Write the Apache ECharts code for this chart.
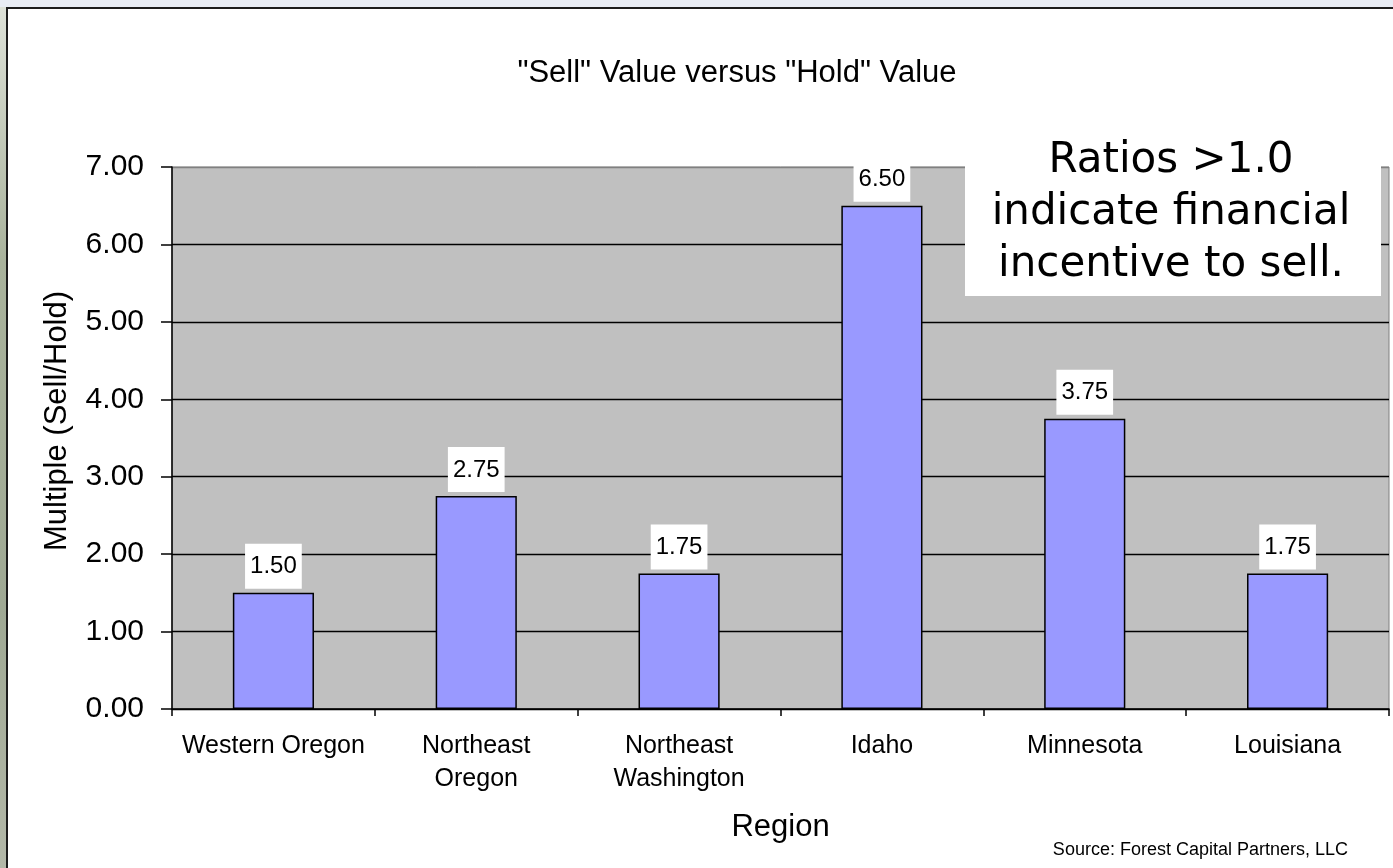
<!DOCTYPE html>
<html>
<head>
    <meta charset="utf-8">
    <title>Sell Value versus Hold Value</title>
    <style>
        html, body {
            margin: 0;
            padding: 0;
            width: 1393px;
            height: 868px;
            overflow: hidden;
            background: linear-gradient(to bottom, #dfe3da 0%, #a9b39c 30%, #9fa994 70%, #b3b8a8 100%);
        }
        .topstrip {
            position: absolute;
            left: 0; top: 0;
            width: 1393px; height: 7px;
            background: #e8ecf4;
        }
        .frame {
            position: absolute;
            left: 6px; top: 7px;
            right: 0; bottom: 0;
            background: #fff;
            border-left: 2px solid #1c1c1c;
            border-top: 2px solid #1c1c1c;
        }
        #chart {
            position: absolute;
            left: 0; top: 0;
            width: 1393px;
            height: 868px;
        }
    </style>
</head>
<body>
<div class="topstrip"></div>
<div class="frame"></div>
<div id="chart"></div>
<script src="https://cdn.jsdelivr.net/npm/echarts@6/dist/echarts.min.js"></script>
<script>
    // data
    var regions = ['Western Oregon', 'Northeast\nOregon', 'Northeast\nWashington', 'Idaho', 'Minnesota', 'Louisiana'];
    var multiples = [1.50, 2.75, 1.75, 6.50, 3.75, 1.75];
    var yTicks = { min: 0, max: 7, step: 1 };

    var titleText = '"Sell" Value versus "Hold" Value';
    var noteLines = ['Ratios >1.0', 'indicate financial', 'incentive to sell.'];
    var sourceText = 'Source: Forest Capital Partners, LLC';

    var font = '"Liberation Sans", Arial, sans-serif';

    // gridlines black, but the top one is the gray plot border
    var gridColors = ['#000', '#000', '#000', '#000', '#000', '#000', '#000', '#808080'];

    var option = {
        backgroundColor: 'transparent',
        animation: false,
        textStyle: { fontFamily: font, color: '#000' },
        grid: {
            left: 172, top: 167, right: 4, bottom: 159,
            show: true,
            backgroundColor: '#c0c0c0',
            borderColor: '#808080',
            borderWidth: 1
        },
        xAxis: {
            type: 'category',
            data: regions,
            name: 'Region',
            nameLocation: 'middle',
            nameGap: 103,
            nameTextStyle: { fontSize: 31, fontFamily: font, color: '#000' },
            axisLine: { show: true, lineStyle: { color: '#000', width: 1.5 } },
            axisTick: { show: true, length: 7, alignWithLabel: false, lineStyle: { color: '#000', width: 1.5 } },
            axisLabel: {
                fontSize: 25, lineHeight: 33, margin: 21, color: '#000', fontFamily: font,
                interval: 0
            },
            splitLine: { show: false }
        },
        yAxis: {
            type: 'value',
            min: yTicks.min,
            max: yTicks.max,
            interval: yTicks.step,
            name: 'Multiple (Sell/Hold)',
            nameLocation: 'middle',
            nameGap: 99,
            nameTextStyle: { fontSize: 31, fontFamily: font, color: '#000', padding: [0, 0, 0, 34] },
            axisLine: { show: true, lineStyle: { color: '#000', width: 1.5 } },
            axisTick: { show: true, length: 11, lineStyle: { color: '#000', width: 1.5 } },
            axisLabel: {
                fontSize: 30, margin: 28, color: '#000', fontFamily: font,
                formatter: function (v) { return v.toFixed(2); }
            },
            splitLine: { show: true, lineStyle: { color: gridColors, width: 1.3 } }
        },
        series: [{
            type: 'bar',
            data: multiples,
            barWidth: '40%',
            itemStyle: { color: '#9999ff', borderColor: '#000', borderWidth: 1.5 },
            label: {
                show: true,
                position: 'top',
                distance: 4,
                fontSize: 24,
                fontFamily: font,
                color: '#000',
                backgroundColor: '#fff',
                padding: [11, 5, 10, 5],
                formatter: function (p) { return p.value.toFixed(2); }
            }
        }],
        graphic: [
            {
                type: 'text', z: 10,
                position: [737, 73],
                style: {
                    text: titleText, align: 'center', verticalAlign: 'middle',
                    font: '31px ' + font, fill: '#000'
                }
            },
            {
                type: 'rect', z: 20,
                shape: { x: 965, y: 130, width: 416, height: 166 },
                style: { fill: '#fff' }
            },
            {
                type: 'text', z: 21,
                position: [1171, 213],
                style: {
                    text: noteLines.join('\n'), align: 'center', verticalAlign: 'middle',
                    font: '42px "DejaVu Sans", Verdana, sans-serif', lineHeight: 52, fill: '#000'
                }
            },
            {
                type: 'text', z: 10,
                position: [1348, 850],
                style: {
                    text: sourceText, align: 'right', verticalAlign: 'middle',
                    font: '18px ' + font, fill: '#000'
                }
            }
        ]
    };

    var chart = echarts.init(document.getElementById('chart'));
    chart.setOption(option);
</script>
</body>
</html>
